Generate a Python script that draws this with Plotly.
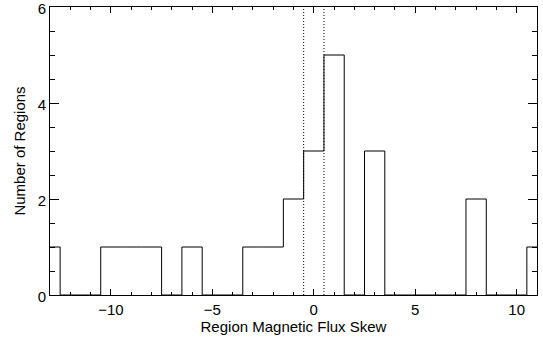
import plotly.graph_objects as go

# Histogram data: bin centres (bin width 1) and counts
bin_centers = list(range(-13, 12))
counts = [1, 0, 0, 1, 1, 1, 0, 1, 0, 0, 1, 1, 2, 3, 5, 0, 3, 0, 0, 0, 0, 2, 0, 0, 1]
marker_lines = [-0.5, 0.5]
x_ticks = [-10, -5, 0, 5, 10]
y_ticks = [0, 2, 4, 6]
x_title = "Region Magnetic Flux Skew"
y_title = "Number of Regions"

edges = [c - 0.5 for c in bin_centers] + [bin_centers[-1] + 0.5]
step_y = counts + [counts[-1]]

fig = go.Figure()
fig.add_trace(go.Scatter(x=edges, y=step_y, mode="lines", line_shape="hv",
                         line=dict(color="black", width=1), showlegend=False,
                         hoverinfo="skip"))
for xv in marker_lines:
    fig.add_trace(go.Scatter(x=[xv, xv], y=[0, 6], mode="lines",
                             line=dict(color="black", width=1, dash="1px,2px"),
                             showlegend=False, hoverinfo="skip"))
# invisible trace to activate the mirror axes
fig.add_trace(go.Scatter(x=[0], y=[0], xaxis="x2", yaxis="y2", mode="markers",
                         marker=dict(opacity=0), showlegend=False, hoverinfo="skip"))

font = dict(family="Liberation Sans, Arial, sans-serif", size=15, color="black")
fig.update_layout(
    width=543, height=341,
    margin=dict(l=50, r=6, t=7, b=46, autoexpand=False),
    paper_bgcolor="white", plot_bgcolor="white",
    font=font,
)
xcommon = dict(range=[-13, 11], ticks="inside", ticklen=6, tickwidth=1, tickcolor="black",
               minor=dict(ticks="inside", ticklen=3, dtick=1, tick0=0, tickcolor="black", showgrid=False),
               showline=True, linecolor="black", linewidth=1, automargin=False,
               showgrid=False, zeroline=False)
ycommon = dict(range=[0, 6], ticks="inside", ticklen=9, tickwidth=1, tickcolor="black",
               minor=dict(ticks="inside", ticklen=5, dtick=0.5, tick0=0, tickcolor="black", showgrid=False),
               showline=True, linecolor="black", linewidth=1, automargin=False,
               showgrid=False, zeroline=False)
fig.update_layout(
    xaxis=dict(**xcommon, tickmode="array", tickvals=x_ticks, ticklabelstandoff=1,
               title=dict(text=x_title, standoff=3, font=font)),
    yaxis=dict(**ycommon, tickmode="array", tickvals=y_ticks,
               ticklabeloverflow="allow", ticklabelshift=2,
               title=dict(text=y_title, standoff=8, font=font)),
    xaxis2=dict(**xcommon, tickmode="array", tickvals=x_ticks, overlaying="x",
                side="top", anchor="y2", showticklabels=False),
    yaxis2=dict(**ycommon, tickmode="array", tickvals=y_ticks, overlaying="y",
                side="right", anchor="x2", showticklabels=False),
)

fig.write_html("out.html")
